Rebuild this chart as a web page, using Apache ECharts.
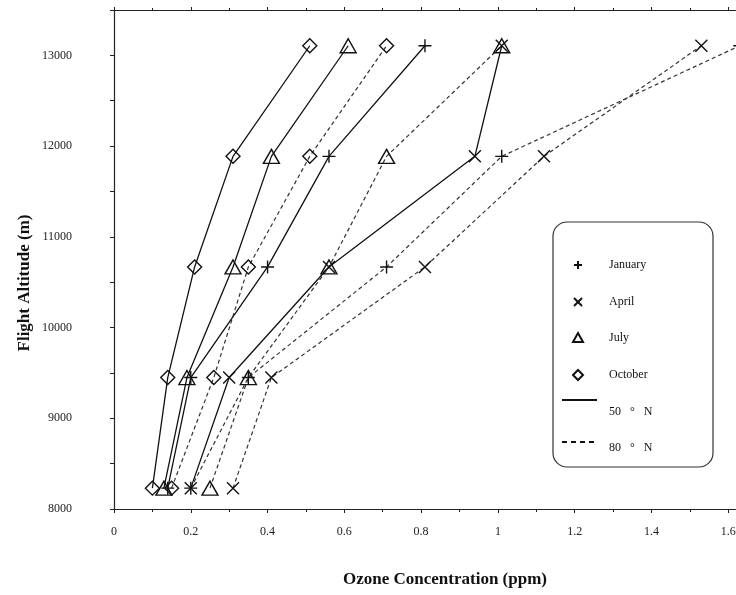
<!DOCTYPE html>
<html>
<head>
<meta charset="utf-8">
<script src="https://cdn.jsdelivr.net/npm/echarts@6/dist/echarts.min.js"></script>
<style>
  html, body { margin: 0; padding: 0; background: #fff; }
  #container { width: 736px; height: 595px; }
</style>
</head>
<body>
<div id="container"></div>
<script>
// flight altitudes (m) = 27000, 31000, 35000, 39000, 43000 ft
var altitudes = [8230, 9449, 10668, 11887, 13106];

// ozone concentration (ppm), 50 deg N
var jan50 = [0.14, 0.20, 0.40, 0.56, 0.81];
var apr50 = [0.20, 0.30, 0.56, 0.94, 1.01];
var jul50 = [0.13, 0.19, 0.31, 0.41, 0.61];
var oct50 = [0.10, 0.14, 0.21, 0.31, 0.51];

// ozone concentration (ppm), 80 deg N
var jan80 = [0.20, 0.35, 0.71, 1.01, 1.63];
var apr80 = [0.31, 0.41, 0.81, 1.12, 1.53];
var jul80 = [0.25, 0.35, 0.56, 0.71, 1.01];
var oct80 = [0.15, 0.26, 0.35, 0.51, 0.71];

var legendLabels = ["January", "April", "July", "October", "50   \u00b0   N", "80   \u00b0   N"];

var SERIF = "'Liberation Serif', 'DejaVu Serif', serif";
var INK = "#111";

var symbols = {
  plus: "path://M5,0L5,10M0,5L10,5",
  cross: "path://M0,0L10,10M10,0L0,10",
  triangle: "path://M5,0L10,9L0,9Z",
  diamond: "path://M5,0L10,5L5,10L0,5Z"
};
var symbolSizes = {
  plus: 13,
  cross: 12,
  triangle: [16, 14],
  diamond: [14, 14]
};

function pairs(xs) {
  return xs.map(function (x, i) { return [x, altitudes[i]]; });
}

function makeSeries(name, xs, mark, dashed) {
  return {
    name: name,
    type: "line",
    data: pairs(xs),
    symbol: symbols[mark],
    symbolSize: symbolSizes[mark],
    symbolKeepAspect: false,
    itemStyle: { color: "rgba(0,0,0,0)", borderColor: INK, borderWidth: 1.4 },
    lineStyle: dashed
      ? { color: "#333", width: 1.2, type: [4, 3] }
      : { color: INK, width: 1.3, type: "solid" },
    emphasis: { disabled: true },
    animation: false,
    z: 3
  };
}

var myChart = echarts.init(document.getElementById("container"));

// hand-drawn legend box on the right
function seg(x1, y1, x2, y2, w, dash) {
  return {
    type: "line",
    shape: { x1: x1, y1: y1, x2: x2, y2: y2 },
    style: { stroke: INK, lineWidth: w, lineDash: dash || null },
    z: 10
  };
}
var lx = 578, tx = 609;
var rows = [265, 302, 338, 375, 412, 448];
var legend = [
  {
    type: "rect",
    shape: { x: 553, y: 222, width: 160, height: 245, r: 14 },
    style: { fill: "#fff", stroke: "#333", lineWidth: 1.2 },
    z: 9
  },
  seg(lx - 4, rows[0], lx + 4, rows[0], 2),
  seg(lx, rows[0] - 4, lx, rows[0] + 4, 2),
  seg(lx - 4, rows[1] - 4, lx + 4, rows[1] + 4, 2),
  seg(lx + 4, rows[1] - 4, lx - 4, rows[1] + 4, 2),
  {
    type: "polygon",
    shape: { points: [[lx, rows[2] - 5], [lx + 5, rows[2] + 4], [lx - 5, rows[2] + 4]] },
    style: { fill: "none", stroke: INK, lineWidth: 2 },
    z: 10
  },
  {
    type: "polygon",
    shape: { points: [[lx, rows[3] - 5], [lx + 5, rows[3]], [lx, rows[3] + 5], [lx - 5, rows[3]]] },
    style: { fill: "none", stroke: INK, lineWidth: 2 },
    z: 10
  },
  seg(562, 400, 597, 400, 2),
  seg(562, 442, 597, 442, 2, [5, 4])
];
legendLabels.forEach(function (t, i) {
  legend.push({
    type: "text",
    x: tx,
    y: rows[i],
    style: {
      text: t,
      font: "12px " + SERIF,
      fill: INK,
      textVerticalAlign: "middle"
    },
    z: 10
  });
});

var titles = [
  {
    type: "text",
    x: 445,
    y: 580,
    style: {
      text: "Ozone Concentration (ppm)",
      font: "bold 17px " + SERIF,
      fill: INK,
      textAlign: "center",
      textVerticalAlign: "middle"
    }
  },
  {
    type: "text",
    x: 25,
    y: 283,
    rotation: Math.PI / 2,
    style: {
      text: "Flight Altitude (m)",
      font: "bold 17px " + SERIF,
      fill: INK,
      textAlign: "center",
      textVerticalAlign: "middle"
    }
  }
];

var axisLine = { show: true, lineStyle: { color: "#222", width: 1.2 } };

myChart.setOption({
  backgroundColor: "#fff",
  animation: false,
  // plot runs past the right edge of the picture (x max 1.8 is cut off)
  grid: { left: 114, width: 691, top: 10, bottom: 86, outerBoundsMode: "none", containLabel: false },
  xAxis: [
    {
      type: "value",
      min: 0,
      max: 1.8,
      interval: 0.2,
      axisLine: axisLine,
      axisTick: { show: true, length: 4, lineStyle: { color: "#222" } },
      minorTick: { show: true, splitNumber: 2, length: 3, lineStyle: { color: "#222" } },
      splitLine: { show: false },
      axisLabel: {
        margin: 17,
        fontFamily: SERIF,
        fontSize: 12,
        color: "#222"
      }
    },
    {
      type: "value",
      position: "top",
      min: 0,
      max: 1.8,
      interval: 0.2,
      axisLine: axisLine,
      axisTick: { show: true, length: 3, lineStyle: { color: "#222" } },
      minorTick: { show: true, splitNumber: 2, length: 2, lineStyle: { color: "#222" } },
      splitLine: { show: false },
      axisLabel: { show: false }
    }
  ],
  yAxis: [
    {
      type: "value",
      min: 8000,
      max: 13500,
      interval: 1000,
      axisLine: axisLine,
      axisTick: { show: true, length: 4, lineStyle: { color: "#222" } },
      minorTick: { show: true, splitNumber: 2, length: 4, lineStyle: { color: "#222" } },
      splitLine: { show: false },
      axisLabel: {
        margin: 42,
        showMaxLabel: false,
        formatter: function (v) { return String(v); },
        fontFamily: SERIF,
        fontSize: 12,
        color: "#222"
      }
    }
  ],
  series: [
    makeSeries("50N January", jan50, "plus", false),
    makeSeries("50N April", apr50, "cross", false),
    makeSeries("50N July", jul50, "triangle", false),
    makeSeries("50N October", oct50, "diamond", false),
    makeSeries("80N January", jan80, "plus", true),
    makeSeries("80N April", apr80, "cross", true),
    makeSeries("80N July", jul80, "triangle", true),
    makeSeries("80N October", oct80, "diamond", true)
  ],
  graphic: titles.concat(legend)
});
</script>
</body>
</html>
